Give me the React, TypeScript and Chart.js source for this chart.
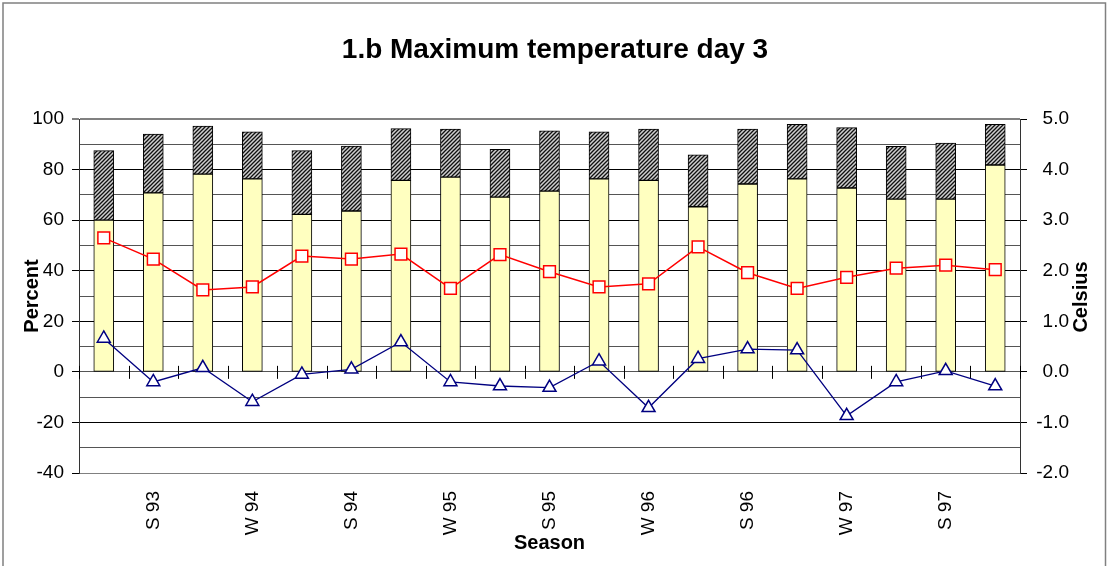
import React, { useEffect, useRef } from 'react';
import { Chart, registerables } from 'chart.js';

Chart.register(...registerables);

const FONT = "'Liberation Sans', Arial, sans-serif";

const categories = ['', 'S 93', '', 'W 94', '', 'S 94', '', 'W 95', '', 'S 95', '', 'W 96', '', 'S 96', '', 'W 97', '', 'S 97', ''];
const lowerPercent = [60.0, 70.8, 78.2, 76.3, 62.3, 63.6, 75.7, 77.0, 69.1, 71.5, 76.3, 75.7, 65.3, 74.3, 76.3, 72.7, 68.3, 68.3, 81.8];
const upperPercent = [27.5, 23.2, 19.0, 18.6, 25.2, 25.7, 20.5, 19.0, 18.9, 23.8, 18.6, 20.3, 20.5, 21.7, 21.6, 23.9, 20.9, 22.2, 16.1];
const redCelsius = [2.65, 2.23, 1.62, 1.68, 2.29, 2.23, 2.33, 1.65, 2.32, 1.98, 1.68, 1.74, 2.47, 1.96, 1.65, 1.87, 2.05, 2.11, 2.02];
const blueCelsius = [0.66, -0.2, 0.08, -0.59, -0.05, 0.05, 0.59, -0.2, -0.28, -0.31, 0.21, -0.71, 0.26, 0.45, 0.43, -0.87, -0.2, 0.02, -0.28];
const percentRange = [-40, 100];
const celsiusRange = [-2, 5];

const titleText = '1.b Maximum temperature day 3';
const leftTitle = 'Percent';
const rightTitle = 'Celsius';
const bottomTitle = 'Season';

function makeHatch(): CanvasPattern | string {
  const c = document.createElement('canvas');
  c.width = 4;
  c.height = 4;
  const g = c.getContext('2d');
  if (!g) return '#555';
  g.fillStyle = '#cfcfcf';
  g.fillRect(0, 0, 4, 4);
  g.strokeStyle = '#111';
  g.lineWidth = 1.3;
  g.beginPath();
  g.moveTo(-1, 5); g.lineTo(5, -1);
  g.moveTo(-1, 1); g.lineTo(1, -1);
  g.moveTo(3, 5); g.lineTo(5, 3);
  g.stroke();
  const p = g.createPattern(c, 'repeat');
  return p || '#555';
}

const decor = {
  id: 'decor',
  beforeDatasetsDraw(chart: any) {
    const { ctx, chartArea } = chart;
    const y0 = chart.scales.y.getPixelForValue(0);
    const n = categories.length;
    ctx.save();
    ctx.strokeStyle = '#000';
    ctx.lineWidth = 1;
    for (let i = 0; i <= n; i++) {
      const x = Math.round(chartArea.left + (i * (chartArea.right - chartArea.left)) / n) + 0.5;
      ctx.beginPath();
      ctx.moveTo(x, y0 - 6);
      ctx.lineTo(x, y0 + 7);
      ctx.stroke();
    }
    ctx.restore();
  },
  afterDraw(chart: any) {
    const { ctx, chartArea } = chart;
    ctx.save();
    ctx.fillStyle = '#000';
    ctx.font = `bold 28px ${FONT}`;
    ctx.textAlign = 'center';
    ctx.textBaseline = 'alphabetic';
    ctx.fillText(titleText, 555, 58);
    ctx.font = `bold 20px ${FONT}`;
    ctx.fillText(bottomTitle, (chartArea.left + chartArea.right) / 2, 549);
    const midY = (chartArea.top + chartArea.bottom) / 2;
    ctx.save();
    ctx.translate(37.5, midY);
    ctx.rotate(-Math.PI / 2);
    ctx.fillText(leftTitle, 0, 0);
    ctx.restore();
    ctx.save();
    ctx.translate(1087, midY + 1);
    ctx.rotate(-Math.PI / 2);
    ctx.fillText(rightTitle, 0, 0);
    ctx.restore();
    ctx.strokeStyle = '#808080';
    ctx.lineWidth = 1.5;
    ctx.strokeRect(3, 3, 1102.5, 580);
    ctx.restore();
  },
};

export default function App() {
  const ref = useRef<HTMLCanvasElement | null>(null);

  useEffect(() => {
    if (!ref.current) return;
    const hatch = makeHatch();
    const chart = new Chart(ref.current, {
      type: 'bar',
      data: {
        labels: categories,
        datasets: [
          {
            type: 'line',
            label: 'Red',
            data: redCelsius,
            yAxisID: 'y1',
            borderColor: '#ff0000',
            borderWidth: 1.5,
            pointStyle: 'rect',
            pointRadius: 8.3,
            pointBackgroundColor: '#ffffff',
            pointBorderColor: '#ff0000',
            pointBorderWidth: 1.5,
            fill: false,
            tension: 0,
            order: 1,
          } as any,
          {
            type: 'line',
            label: 'Blue',
            data: blueCelsius,
            yAxisID: 'y1',
            borderColor: '#000080',
            borderWidth: 1.3,
            pointStyle: 'triangle',
            pointRadius: 7.5,
            pointBackgroundColor: '#ffffff',
            pointBorderColor: '#000080',
            pointBorderWidth: 1.5,
            fill: false,
            tension: 0,
            order: 0,
          } as any,
          {
            type: 'bar',
            label: 'Lower',
            data: lowerPercent,
            yAxisID: 'y',
            stack: 's',
            backgroundColor: '#ffffc0',
            borderColor: '#000',
            borderWidth: 1,
            borderSkipped: false,
            barThickness: 20,
            order: 3,
          } as any,
          {
            type: 'bar',
            label: 'Upper',
            data: upperPercent,
            yAxisID: 'y',
            stack: 's',
            backgroundColor: hatch,
            borderColor: '#000',
            borderWidth: 1,
            borderSkipped: false,
            barThickness: 20,
            order: 3,
          } as any,
        ],
      },
      options: {
        responsive: false,
        animation: false,
        events: [],
        layout: { padding: { top: 119, left: 0, right: 41, bottom: 0 } },
        plugins: {
          legend: { display: false },
          title: { display: false },
          tooltip: { enabled: false },
        },
        scales: {
          x: {
            afterFit(scale: any) { scale.height = 93; },
            grid: { display: false, drawTicks: false },
            border: { display: false },
            ticks: {
              autoSkip: false,
              maxRotation: 90,
              minRotation: 90,
              padding: 18,
              color: '#000',
              font: { family: FONT, size: 19 },
            },
          },
          y: {
            position: 'left',
            min: percentRange[0],
            max: percentRange[1],
            afterFit(scale: any) { scale.width = 79; },
            ticks: {
              stepSize: 10,
              autoSkip: false,
              padding: 8,
              color: '#000',
              font: { family: FONT, size: 19 },
              callback: (v: any) => (Number(v) % 20 === 0 ? String(v) : ''),
            },
            grid: {
              tickLength: 7,
              tickWidth: 1,
              color: (c: any) => {
                const v = c.tick ? c.tick.value : 0;
                if (v === 100 || v === -40) return '#808080';
                if (v === 0) return '#555555';
                return v % 20 === 0 ? '#000000' : '#555555';
              },
              lineWidth: (c: any) => (c.tick && c.tick.value === 100 ? 2 : 1),
              tickColor: (c: any) => {
                const v = c.tick ? c.tick.value : 0;
                return v % 20 === 0 ? '#000000' : 'rgba(0,0,0,0)';
              },
            },
            border: { display: true, color: '#333', width: 1 },
          },
          y1: {
            position: 'right',
            min: celsiusRange[0],
            max: celsiusRange[1],
            afterFit(scale: any) { scale.width = 49; },
            ticks: {
              stepSize: 1,
              autoSkip: false,
              padding: 9,
              crossAlign: 'far',
              color: '#000',
              font: { family: FONT, size: 19 },
              callback: (v: any) => Number(v).toFixed(1),
            },
            grid: {
              drawOnChartArea: false,
              tickLength: 7,
              color: '#000',
              tickColor: '#000',
            },
            border: { display: true, color: '#333', width: 1 },
          },
        },
      },
      plugins: [decor],
    });
    return () => chart.destroy();
  }, []);

  return (
    <div style={{ position: 'absolute', left: 0, top: 0, width: 1110, height: 566, background: '#fff' }}>
      <canvas ref={ref} width={1110} height={566} style={{ display: 'block' }} />
    </div>
  );
}
